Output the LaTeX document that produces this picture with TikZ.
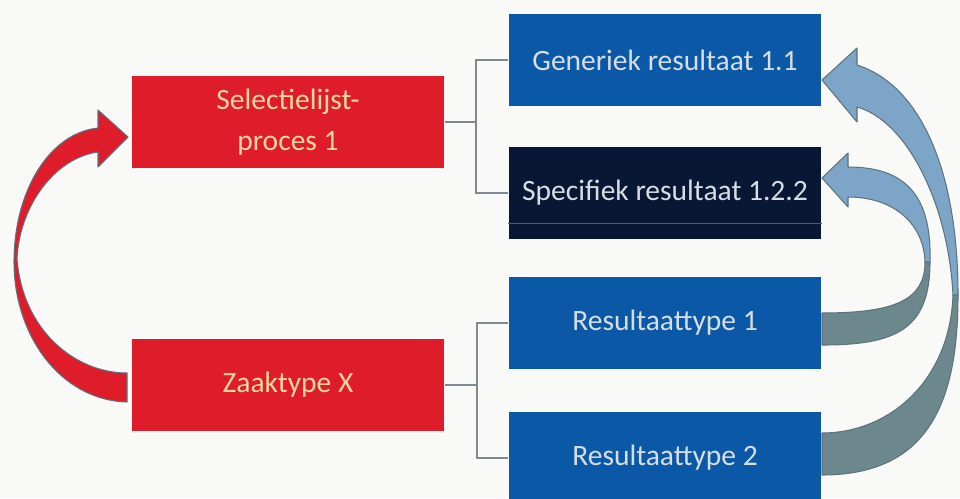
\documentclass[tikz,border=0pt]{standalone}
\usepackage{fontspec}
\setmainfont{Carlito}

\definecolor{page}{RGB}{249,249,247}
\definecolor{boxred}{RGB}{222,28,42}
\definecolor{redtext}{RGB}{246,214,160}
\definecolor{boxblue}{RGB}{10,88,166}
\definecolor{boxnavy}{RGB}{8,24,52}
\definecolor{bluetext}{RGB}{214,222,228}
\definecolor{linkgrey}{RGB}{128,136,144}
\definecolor{arrowblue}{RGB}{125,165,200}
\definecolor{arrowgrey}{RGB}{108,136,140}
\definecolor{arrowedge}{RGB}{95,115,125}

\begin{document}
\begin{tikzpicture}[x=0.02cm, y=-0.02cm,
    box/.style={minimum width=6.26cm, minimum height=1.84cm, inner sep=0pt,
      align=center, font=\fontsize{16.8}{23}\selectfont},
    redbox/.style={box, fill=boxred, text=redtext},
    bluebox/.style={box, fill=boxblue, text=bluetext},
    link/.style={draw=linkgrey, line width=1.1pt},
    bentarrow/.style={draw=arrowedge, line width=0.6pt, line join=round}]
    % Page
    \fill[page] (0,0) rectangle (960,498);
    \useasboundingbox (0,0) rectangle (960,498);

    % Left column
    \node[redbox] (sel) at (288,122) {Selectielijst-\\proces 1};
    \node[redbox] (zaak) at (288,385) {Zaaktype X};

    % Right column
    \node[bluebox] (gen) at (665,60) {Generiek resultaat 1.1};
    \node[bluebox, fill=boxnavy] (spec) at (665,193) {Specifiek resultaat 1.2.2};
    \draw[green!60!black, line width=0.4pt] (spec.west |- 0,223) -- (spec.east |- 0,223);
    \node[bluebox] (rt1) at (665,323) {Resultaattype 1};
    \node[bluebox] (rt2) at (665,458) {Resultaattype 2};

    % Brackets
    \draw[link] (sel.east) -- ++(31,0) |- (gen.west);
    \draw[link] (sel.east) ++(31,0) |- (spec.west);
    \draw[link] (zaak.east) -- ++(32,0) |- (rt1.west);
    \draw[link] (zaak.east) ++(32,0) |- (rt2.west);

    % Red arrow
    \filldraw[bentarrow, fill=boxred] (127,402) .. controls (60,400) and (14,335) .. (14,262)
      .. controls (14,190) and (50,133) .. (98,128) -- (98,110) -- (128,137) -- (98,167)
      -- (98,152) .. controls (55,158) and (20,205) .. (17,258)
      .. controls (22,330) and (75,373) .. (127,373) -- cycle;

    % Outer blue arrow
    \filldraw[bentarrow, fill=arrowgrey] (822,475) .. controls (930,475) and (958,400) .. (958,295)
      -- (953,295) .. controls (950,380) and (890,433) .. (822,433) -- cycle;
    \filldraw[bentarrow, fill=arrowblue] (958,295) .. controls (958,170) and (920,85) .. (857,65)
      -- (857,48) -- (822,80) -- (857,122) -- (857,107)
      .. controls (905,120) and (948,200) .. (953,295) -- cycle;

    % Inner blue arrow
    \filldraw[bentarrow, fill=arrowgrey] (822,345) .. controls (895,345) and (930,330) .. (930,262)
      -- (925,262) .. controls (925,300) and (895,313) .. (822,313) -- cycle;
    \filldraw[bentarrow, fill=arrowblue] (930,262) .. controls (932,195) and (905,167) .. (848,167)
      -- (848,153) -- (822,178) -- (848,207) -- (848,197)
      .. controls (895,197) and (924,225) .. (925,262) -- cycle;
\end{tikzpicture}
\end{document}
